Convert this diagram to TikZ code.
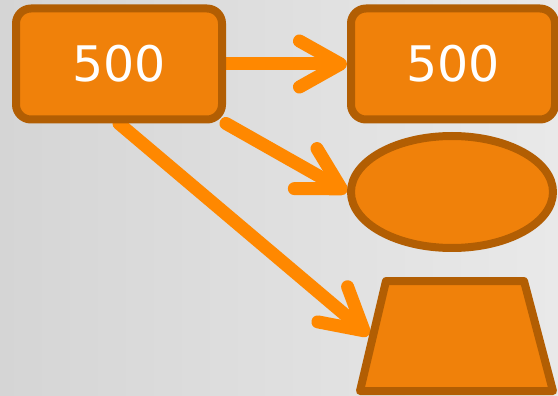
\documentclass[tikz,border=0pt]{standalone}
\usepackage{fontspec}
\setmainfont{DejaVu Sans}
\usetikzlibrary{shapes.geometric,arrows.meta}
\definecolor{bgdark}{RGB}{213,213,213}
\definecolor{bglight}{RGB}{233,233,233}
\definecolor{shapefill}{RGB}{240,129,10}
\definecolor{shapeedge}{RGB}{178,94,3}
\definecolor{arrowcol}{RGB}{255,136,0}
\pgfdeclarelayer{backdrop}
\pgfdeclarelayer{links}
\pgfsetlayers{backdrop,links,main}
\tikzset{
  shapestyle/.style={draw=shapeedge, fill=shapefill, line width=8pt, inner sep=0pt, line join=round},
  boxstyle/.style={shapestyle, rectangle, rounded corners=15pt, minimum height=111pt,
    text=white, font=\fontsize{49}{59}\selectfont},
  link/.style={draw=arrowcol, line width=13pt, line cap=round,
    -{Straight Barb[length=41pt, width=46pt, round]}},
}
\begin{document}
\begin{tikzpicture}[x=1pt, y=-1pt]
  % background
  \begin{pgfonlayer}{backdrop}
    \shade[left color=bgdark, right color=bglight]
      (0,0) rectangle (558,396);
  \end{pgfonlayer}
  \useasboundingbox (0,0) rectangle (558,396);

  % shapes
  \node[boxstyle, minimum width=206pt] (src) at (119,64) {500};
  \node[boxstyle, minimum width=204pt] (dst) at (453,64) {500};
  \node[shapestyle, ellipse, minimum width=202pt, minimum height=112pt] (ell) at (452,192) {};
  \draw[shapestyle] (386,281) -- (524,281) -- (553,391) -- (360,391) -- cycle;
  \coordinate (trapw) at (369,335);

  % connectors, beneath the shapes
  \begin{pgfonlayer}{links}
    \draw[link] (src.east) -- (dst.west);
    \draw[link] (src.south east) -- (ell.west);
    \draw[link] (src.south) -- (trapw);
  \end{pgfonlayer}
\end{tikzpicture}
\end{document}
